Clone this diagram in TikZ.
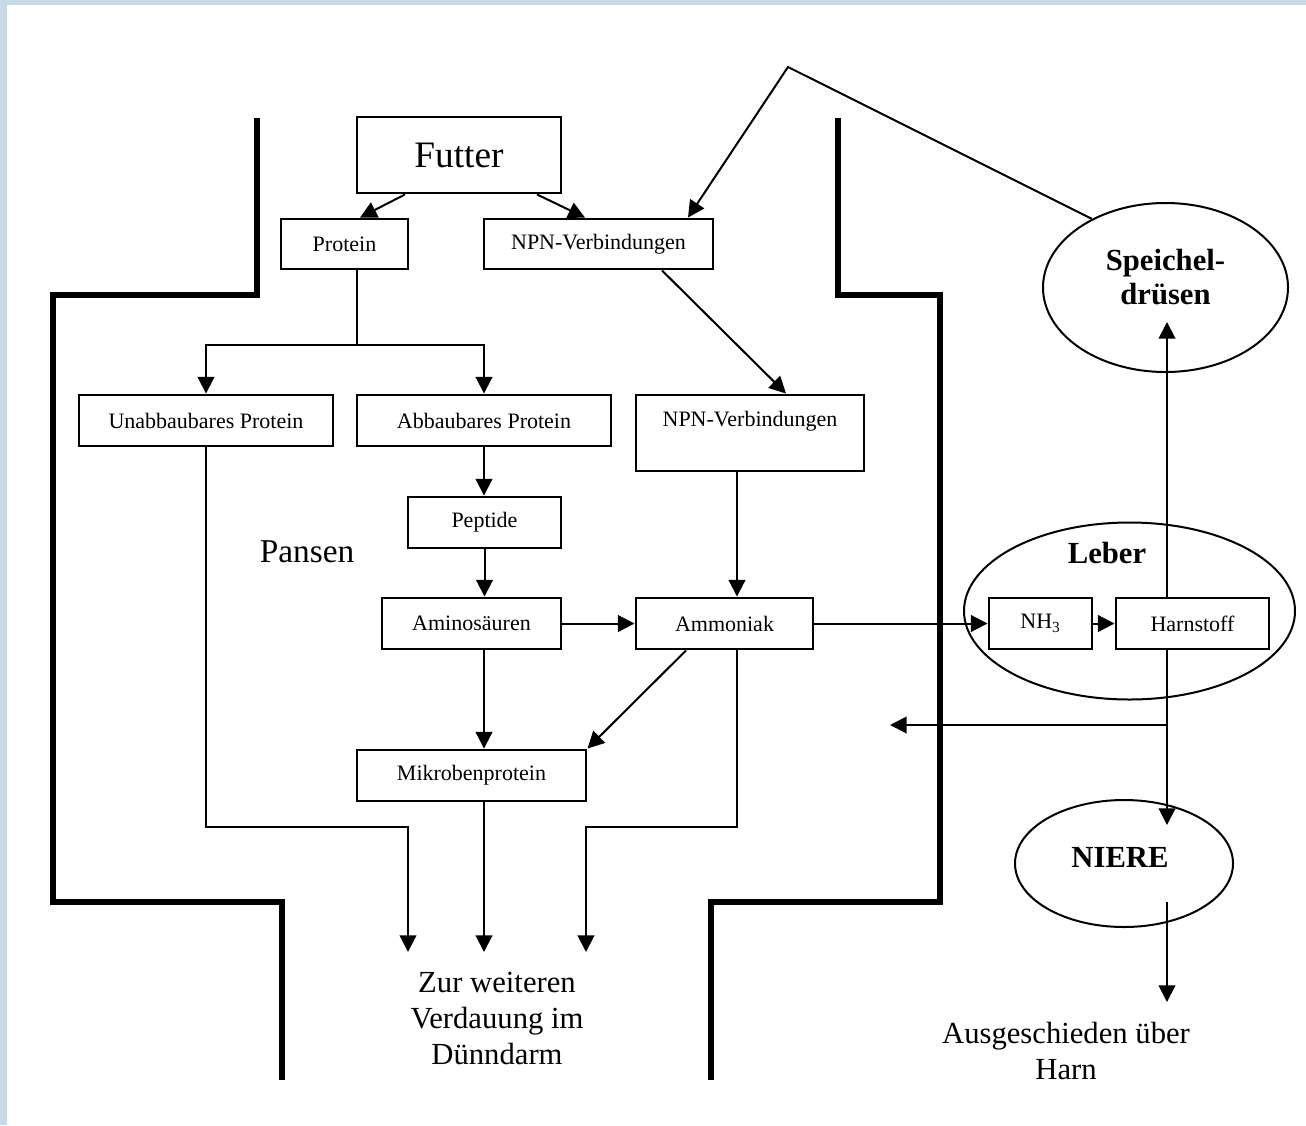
\documentclass[tikz,border=0pt]{standalone}
\usepackage{fontspec}
\setmainfont{Liberation Serif}
\usetikzlibrary{arrows.meta,shapes.geometric}
\definecolor{pnframe}{HTML}{C8D9E7}
\newcommand{\pxu}{0.75pt}
\newcommand{\fsbox}{\fontsize{16.5}{19.5}\selectfont}
\newcommand{\fsbig}{\fontsize{23}{27}\selectfont}
\tikzset{
  box/.style={draw,line width=2.2pt,inner sep=0pt,font=\fsbox,minimum height=51*\pxu},
  organ/.style={draw,ellipse,line width=1.5pt,inner sep=0pt},
  flow/.style={-{Triangle[length=12.5pt,width=12.5pt]},line width=1.5pt},
  link/.style={line width=1.5pt},
  wall/.style={line width=4.2pt},
  bigtxt/.style={font=\fsbig,align=center},
  organlbl/.style={font=\fontsize{23}{25.5}\selectfont\bfseries,align=center},
}

\begin{document}
\begin{tikzpicture}[x=\pxu,y=-\pxu]
  \useasboundingbox (0,0) rectangle (1306,1125);
  \fill[pnframe] (0,0) rectangle (1306,5);
  \fill[pnframe] (0,0) rectangle (7,1125);

  % ---------- rumen wall ----------
  \draw[wall] (257,118) -- (257,295) -- (53,295) -- (53,902) -- (282,902) -- (282,1080);
  \draw[wall] (838,118) -- (838,295) -- (940,295) -- (940,902) -- (711,902) -- (711,1080);

  % ---------- organs ----------
  \node[organ,minimum width=245*\pxu,minimum height=169*\pxu] (speichel) at (1165.5,287.5) {};
  \node[organ,minimum width=331*\pxu,minimum height=177*\pxu] (leber) at (1129.5,611) {};
  \node[organ,minimum width=218*\pxu,minimum height=127*\pxu] (niere) at (1124,863.5) {};
  \node[organlbl] (speichellbl) at (1165.5,277) {Speichel-\\drüsen};
  \node[organlbl] (leberlbl) at (1107,553) {Leber};
  \node[organlbl] (nierelbl) at (1120,857) {NIERE};

  % ---------- boxes ----------
  \node[box,minimum width=204*\pxu,minimum height=76*\pxu,font=\fontsize{28}{32}\selectfont] (futter) at (459,155) {Futter};
  \node[box,minimum width=127*\pxu,minimum height=50*\pxu] (protein) at (344.5,244) {Protein};
  \node[box,minimum width=229*\pxu,minimum height=50*\pxu] (npn1) at (598.5,244) {NPN-Verbindungen};
  \node[box,minimum width=254*\pxu] (unab) at (206,420.5) {Unabbaubares Protein};
  \node[box,minimum width=254*\pxu] (abb) at (484,420.5) {Abbaubares Protein};
  \node[box,minimum width=228*\pxu,minimum height=76*\pxu,text depth=21pt] (npn2) at (750,433) {NPN-Verbindungen};
  \node[box,minimum width=153*\pxu] (peptide) at (484.5,522.5) {Peptide};
  \node[box,minimum width=179*\pxu] (amino) at (471.5,623.5) {Aminosäuren};
  \node[box,minimum width=177*\pxu] (ammoniak) at (724.5,623.5) {Ammoniak};
  \node[box,minimum width=229*\pxu] (mikro) at (471.5,775.5) {Mikrobenprotein};
  \node[box,minimum width=103*\pxu] (nh3) at (1040.5,623.5) {NH\textsubscript{3}};
  \node[box,minimum width=153*\pxu] (harn) at (1192.5,623.5) {Harnstoff};

  % ---------- free texts ----------
  \node[font=\fontsize{25}{30}\selectfont] (pansen) at (307,552) {Pansen};
  \node[bigtxt] (duenn) at (497,1018) {Zur weiteren\\Verdauung im\\Dünndarm};
  \node[bigtxt] (ausharn) at (1066,1051) {Ausgeschieden über\\Harn};

  % ---------- helper points ----------
  \coordinate (apex) at (788,67);
  \coordinate (split) at (357,345);
  \coordinate (sptip) at (1167,322);
  \coordinate (nitip) at (1167,825);
  \coordinate (niout) at (1167,902);
  \coordinate (urin) at (1167,1002);
  \coordinate (back) at (890,725);
  \coordinate (out1) at (408,952);
  \coordinate (out2) at (484,952);
  \coordinate (out3) at (586,952);

  % ---------- connectors ----------
  \draw[flow] ([xshift=-54*\pxu]futter.south) -- ([xshift=15.5*\pxu]protein.north);
  \draw[flow] ([xshift=78*\pxu]futter.south) -- ([xshift=-13.5*\pxu]npn1.north);
  \draw[flow] (speichel.137) -- (apex) -- ([xshift=89.5*\pxu]npn1.north);
  \draw[flow] ([xshift=63.5*\pxu]npn1.south) -- ([xshift=36*\pxu]npn2.north);
  \draw[link] ([xshift=12.5*\pxu]protein.south) -- (split);
  \draw[flow] (split) -| (unab.north);
  \draw[flow] (split) -| (abb.north);
  \draw[flow] (abb.south) -- (abb.south |- peptide.north);
  \draw[flow] (peptide.south) -- (peptide.south |- amino.north);
  \draw[flow] ([xshift=-13*\pxu]npn2.south) -- ([xshift=12.5*\pxu]ammoniak.north);
  \draw[flow] (amino) -- (ammoniak);
  \draw[flow] ([xshift=12.5*\pxu]amino.south) -- ([xshift=12.5*\pxu]mikro.north);
  \draw[flow] ([xshift=-38.5*\pxu]ammoniak.south) -- (mikro.north east);
  \draw[flow] (ammoniak) -- (nh3);
  \draw[flow] (nh3) -- (harn);
  \draw[flow] ([xshift=-25.5*\pxu]harn.north) -- (sptip);
  \draw[flow] ([xshift=-25.5*\pxu]harn.south) -- (nitip);
  \draw[flow] (back -| nitip) -- (back);
  \draw[flow] (niout) -- (urin);
  \draw[flow] (unab.south) -- ++(0,380) -| (out1);
  \draw[flow] (mikro.south -| out2) -- (out2);
  \draw[flow] ([xshift=12.5*\pxu]ammoniak.south) -- ++(0,177) -| (out3);
\end{tikzpicture}
\end{document}
